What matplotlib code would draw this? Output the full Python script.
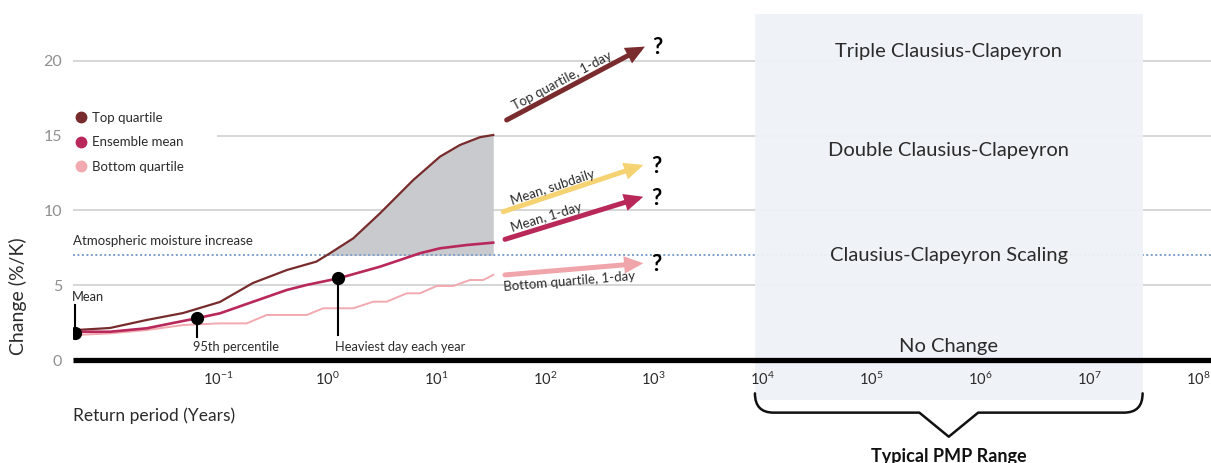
import numpy as np
import matplotlib
matplotlib.use("Agg")
import matplotlib.pyplot as plt
from matplotlib.lines import Line2D
from matplotlib.path import Path
from matplotlib.patches import PathPatch

plt.rcParams["font.family"] = ["Lato", "DejaVu Sans"]
plt.rcParams["mathtext.default"] = "regular"

# ---- data (return period given as log10 of years) ----
top_logx = [-2.314, -1.993, -1.653, -1.322, -0.983, -0.680, -0.367, -0.097,
            0.028, 0.242, 0.487, 0.793, 1.038, 1.221, 1.405, 1.527]
top_vals = [2.00, 2.14, 2.68, 3.14, 3.88, 5.15, 6.02, 6.58,
            7.14, 8.14, 9.81, 12.04, 13.60, 14.38, 14.90, 15.05]

mean_logx = [-2.314, -1.993, -1.656, -1.197, -0.983, -0.677, -0.370, -0.186,
             0.104, 0.487, 0.854, 1.038, 1.283, 1.527]
mean_vals = [1.89, 1.89, 2.12, 2.79, 3.12, 3.90, 4.68, 5.02,
             5.46, 6.24, 7.14, 7.47, 7.69, 7.85]

bottom_logx = [-2.314, -1.993, -1.656, -1.320, -0.983, -0.737, -0.554, -0.186,
               -0.034, 0.242, 0.425, 0.548, 0.732, 0.854, 1.007, 1.160,
               1.313, 1.435, 1.527]
bottom_vals = [1.67, 1.78, 2.00, 2.34, 2.45, 2.45, 3.01, 3.01,
               3.46, 3.46, 3.90, 3.90, 4.46, 4.46, 4.95, 4.95,
               5.35, 5.35, 5.69]

moisture_rate = 7.0  # %/K

# reference statistics marked on the ensemble mean
stat_labels = ["Mean", "95th percentile", "Heaviest day each year"]
stat_logx = [-2.314, -1.197, 0.104]
stat_vals = [1.82, 2.79, 5.50]
stat_leader_end = [3.68, 1.54, 1.67]
stat_label_y = [4.18, 0.84, 0.84]

# extrapolation arrows
arrow_labels = ["Top quartile, 1-day", "Mean, subdaily", "Mean, 1-day", "Bottom quartile, 1-day"]
arrow_start_logx = [1.650, 1.619, 1.635, 1.635]
arrow_start_vals = [16.05, 9.92, 8.07, 5.69]
arrow_end_logx = [2.920, 2.905, 2.905, 2.905]
arrow_end_vals = [20.96, 13.04, 10.92, 6.47]
arrow_colors = ["#7a2b2d", "#f5d372", "#b8295a", "#f0a5ab"]
arrow_label_pos = [0.43, 0.37, 0.32, 0.46]     # fraction along the arrow
arrow_label_off = [8.5, 7.7, 9.0, -11.5]        # pixels, perpendicular

band_labels = ["Triple Clausius-Clapeyron", "Double Clausius-Clapeyron",
               "Clausius-Clapeyron Scaling", "No Change"]
band_vals = [20.65, 14.0, 7.0, 0.9]

pmp_logx = (3.93, 7.49)

xtick_exp = list(range(-1, 9))
ytick_vals = [0, 5, 10, 15, 20]

top_color = "#772b2c"
mean_color = "#b8285a"
bottom_color = "#f2a9af"
text_color = "#2b2b2b"

# ---- figure ----
W, H = 1211, 463
fig = plt.figure(figsize=(W / 100, H / 100), dpi=100)
ax = fig.add_axes([73 / W, 103 / H, 1138 / W, 346 / H])
ax.set_xscale("log")
ax.set_xlim(10 ** -2.332, 10 ** 8.118)
ax.set_ylim(0, 23.14)

for s in ["top", "right", "left"]:
    ax.spines[s].set_visible(False)
ax.spines["bottom"].set_linewidth(3.8)
ax.spines["bottom"].set_color("black")
ax.spines["bottom"].set_capstyle("butt")
ax.spines["bottom"].set_zorder(4)

ax.set_axisbelow(True)
ax.set_yticks(ytick_vals)
ax.set_yticklabels([str(v) for v in ytick_vals])
ax.yaxis.grid(True, color="#cfcfcf", lw=1.2)
ax.tick_params(axis="y", length=0, pad=8, labelsize=11.5, labelcolor="#8f8f8f")

ax.set_xticks([10.0 ** e for e in xtick_exp])
ax.set_xticklabels([f"$10^{{{e}}}$" for e in xtick_exp])
ax.xaxis.set_minor_locator(matplotlib.ticker.NullLocator())
ax.tick_params(axis="x", length=0, pad=8, labelsize=10.5, labelcolor=text_color)
ax.xaxis.set_zorder(3)

ax.set_ylabel("Change (%/K)", fontsize=14, color=text_color)
ax.yaxis.set_label_coords(-55 / 1138, (360 - 296) / 346)
ax.yaxis.label.set_va("center")
ax.set_xlabel("Return period (Years)", fontsize=12.5, color=text_color, loc="left")
ax.xaxis.set_label_coords(0, -(416 - 360) / 346)
ax.xaxis.label.set_va("center")

# PMP range shading
ax.axvspan(10 ** pmp_logx[0], 10 ** pmp_logx[1], ymin=-40 / 346, ymax=1,
           color="#eff2f7", alpha=0.95, lw=0, zorder=0.8, clip_on=False)

# atmospheric moisture (Clausius-Clapeyron) rate
ax.axhline(moisture_rate, color="#7f9fcb", lw=1.4, ls=(0, (1, 1.3)), zorder=0.6)
ax.text(10 ** -2.332, moisture_rate + 0.95, "Atmospheric moisture increase",
        fontsize=9.5, color=text_color, ha="left", va="center")

# curves
tx = 10 ** np.array(top_logx)
ty = np.array(top_vals)
ax.fill_between(tx, ty, moisture_rate, where=ty >= moisture_rate, interpolate=True,
                color="#c9cacd", lw=0, zorder=0.55)
ax.plot(10 ** np.array(bottom_logx), bottom_vals, color=bottom_color, lw=1.4, zorder=3)
ax.plot(tx, ty, color=top_color, lw=1.6, zorder=3.1)
ax.plot(10 ** np.array(mean_logx), mean_vals, color=mean_color, lw=1.9, zorder=3.2)

# marked statistics
for lab, lx, v, le, ly in zip(stat_labels, stat_logx, stat_vals, stat_leader_end, stat_label_y):
    x = 10 ** lx
    ax.plot([x, x], [v, le], color="black", lw=1.5, zorder=4)
    ax.plot([x], [v], "o", color="black", ms=8.5, zorder=5)
    ax.annotate(lab, xy=(x, ly), xytext=(-2.5, 0), textcoords="offset points",
                fontsize=9.3, color=text_color, ha="left", va="center")

# extrapolation arrows with labels and question marks
for lab, sx, sy, ex, ey, c, t, off in zip(arrow_labels, arrow_start_logx, arrow_start_vals,
                                          arrow_end_logx, arrow_end_vals, arrow_colors,
                                          arrow_label_pos, arrow_label_off):
    start = (10 ** sx, sy)
    end = (10 ** ex, ey)
    ax.annotate("", xy=end, xytext=start,
                arrowprops=dict(arrowstyle="-|>,head_length=0.55,head_width=0.25",
                                mutation_scale=14, lw=3.6, color=c,
                                shrinkA=0, shrinkB=0, joinstyle="miter"),
                zorder=4)
    p0 = ax.transData.transform(start)
    p1 = ax.transData.transform(end)
    d = p1 - p0
    ang = np.degrees(np.arctan2(d[1], d[0]))
    n = np.array([-d[1], d[0]]) / np.hypot(*d)
    anchor = (10 ** (sx + t * (ex - sx)), sy + t * (ey - sy))
    ax.annotate(lab, xy=anchor, xytext=(n[0] * off * 0.72, n[1] * off * 0.72),
                textcoords="offset points", rotation=ang, rotation_mode="anchor",
                ha="center", va="center", fontsize=9.5, color=text_color, zorder=5)
    ax.annotate("?", xy=end, xytext=(9, -1), textcoords="offset points",
                ha="center", va="center", fontsize=16, fontweight="bold",
                color="black", zorder=5)

# scaling band labels
pmp_mid = 10 ** ((pmp_logx[0] + pmp_logx[1]) / 2)
for lab, v in zip(band_labels, band_vals):
    ax.text(pmp_mid, v, lab, fontsize=14.5, color=text_color, ha="center",
            va="center", zorder=5)

# brace under the PMP range
x0, x1 = pmp_logx
xm = (x0 + x1) / 2
c, w = 0.17, 0.27
y_top, y_h, y_tip = -2.23, -3.52, -5.13
verts = [(x0, y_top), (x0, y_h), (x0 + c, y_h), (xm - w, y_h), (xm, y_tip),
         (xm + w, y_h), (x1 - c, y_h), (x1, y_h), (x1, y_top)]
codes = [Path.MOVETO, Path.CURVE3, Path.CURVE3, Path.LINETO, Path.LINETO,
         Path.LINETO, Path.LINETO, Path.CURVE3, Path.CURVE3]
verts = [(10 ** vx, vy) for vx, vy in verts]
ax.add_patch(PathPatch(Path(verts, codes), transform=ax.transData, fill=False,
                       lw=1.8, color="#111111", clip_on=False, zorder=5,
                       capstyle="round", joinstyle="round"))
ax.text(pmp_mid, -6.85, "Typical PMP Range", fontsize=13, fontweight="bold",
        color="#111111", ha="center", va="baseline", clip_on=False)

# legend
handles = [Line2D([], [], ls="", marker="o", ms=7.5, color=col)
           for col in (top_color, mean_color, bottom_color)]
leg = ax.legend(handles, ["Top quartile", "Ensemble mean", "Bottom quartile"],
                loc="upper left", bbox_to_anchor=(-4 / 1138, (360 - 108) / 346, 148 / 1138, 0.01),
                mode="expand", frameon=True, fontsize=9.5, handlelength=0.7,
                handletextpad=0.5, labelspacing=0.95, borderpad=0.55, borderaxespad=0)
leg.get_frame().set_facecolor("white")
leg.get_frame().set_edgecolor("none")
leg.get_frame().set_alpha(1)
leg.set_zorder(2)
for t in leg.get_texts():
    t.set_color(text_color)

fig.savefig("out.png", dpi=100)
